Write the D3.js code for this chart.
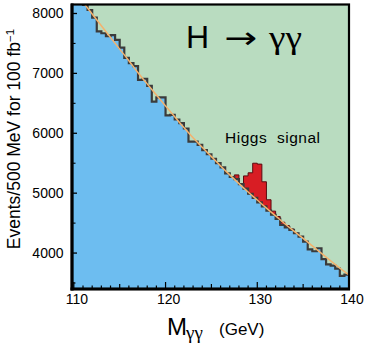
<!DOCTYPE html>
<html><head><meta charset="utf-8">
<script src="https://cdn.jsdelivr.net/npm/d3@7"></script>
<style>body{margin:0;background:#fff} svg{display:block}</style>
</head><body>
<svg id="c" width="384" height="347"></svg>
<script>
// ---- data ----
const binLow = d3.range(110, 140, 0.5);   // 500 MeV bins, lower edges (GeV)
const binWidth = 0.5;
const background = [
  8340, 8250, 8142, 8058, 7930, 7700, 7670, 7620, 7640, 7560,
  7430, 7260, 7170, 7120, 6890, 6910, 6790, 6530, 6600, 6600,
  6300, 6306, 6230, 6170, 6080, 5860, 5860, 5805, 5720, 5650,
  5575, 5500, 5430, 5330, 5270, 5235, 5150, 5075, 4990, 4920,
  4845, 4780, 4710, 4640, 4570, 4470, 4430, 4387, 4331, 4275,
  4191, 4060, 4030, 4080, 3900, 3810, 3790, 3740, 3620, 3640
];
const signal = [
  0, 0, 0, 0, 0, 0, 0, 0, 0, 0,
  0, 0, 0, 0, 0, 0, 0, 0, 0, 0,
  0, 0, 0, 0, 0, 0, 0, 0, 0, 0,
  0, 0, 0, 0, 0, 70, 0, 213, 350, 580,
  640, 410, 180, 60, 40, 45, 30, 15, 0, 0,
  0, 0, 0, 0, 0, 0, 0, 0, 0, 0
];
const fitMass  = [110,111,112,113,114,115,116,117,118,119,120,121,122,123,124,125,126,127,128,129,130,131,132,133,134,135,136,137,138,139,140];
const fitValue = [8390,8190,7992,7796,7600,7405,7212,7010,6825,6640,6457,6276,6095,5925,5765,5610,5455,5305,5160,5020,4885,4750,4620,4490,4365,4245,4120,3995,3870,3750,3635];
const xMajor = [110,120,130,140];
const xMinor = d3.range(110, 141, 1);
const yMajor = [4000,5000,6000,7000,8000];
const yMinor = [3500,4500,5500,6500,7500];

// ---- layout ----
const P = {l:72, r:349, t:4.5, b:289};
const x = d3.scaleLinear().domain([109.8,140]).range([P.l, P.r]);
const y = d3.scaleLinear().domain([3400,8150]).range([P.b, P.t]);
const svg = d3.select('#c');

svg.append('defs').append('clipPath').attr('id','clip')
  .append('rect').attr('x',P.l).attr('y',P.t).attr('width',P.r-P.l).attr('height',P.b-P.t);
const g = svg.append('g').attr('clip-path','url(#clip)');

g.append('rect').attr('x',P.l).attr('y',P.t).attr('width',P.r-P.l).attr('height',P.b-P.t)
  .attr('fill','#b9dcc0');

// step points
const bgPts = [];
binLow.forEach((lo,i)=>{ bgPts.push([lo, background[i]]); bgPts.push([lo+binWidth, background[i]]); });
const area = d3.area().x(d=>x(d[0])).y0(y(3400)).y1(d=>y(d[1]));
g.append('path').attr('d', area([[109.8, background[0]], ...bgPts])).attr('fill','#6dbdf0');

// signal stacked on background
const sigPts = [];
binLow.forEach((lo,i)=>{ if (i>=34 && i<=48){ sigPts.push([lo, background[i], background[i]+signal[i]]); sigPts.push([lo+binWidth, background[i], background[i]+signal[i]]); }});
g.append('path').attr('d', d3.area().x(d=>x(d[0])).y0(d=>y(d[1])).y1(d=>y(d[2]))(sigPts))
  .attr('fill','#d81d24').attr('stroke','#5a0c10').attr('stroke-width',1).attr('stroke-linejoin','miter');

// background step outline
g.append('path').attr('d', d3.line().x(d=>x(d[0])).y(d=>y(d[1]))(bgPts))
  .attr('fill','none').attr('stroke','#3b3b3b').attr('stroke-width',2.2).attr('stroke-linejoin','miter');

// fit line
g.append('path').attr('d', d3.line().curve(d3.curveMonotoneX).x((d,i)=>x(fitMass[i])).y(d=>y(d))(fitValue))
  .attr('fill','none').attr('stroke','#f3b26e').attr('stroke-width',1.5);

// ---- axes ----
const ax = svg.append('g');
yMajor.forEach(v=>ax.append('line').attr('x1',P.l).attr('x2',P.l+5).attr('y1',y(v)).attr('y2',y(v)).attr('stroke','#000').attr('stroke-width',1.3));
yMinor.forEach(v=>ax.append('line').attr('x1',P.l).attr('x2',P.l+3.5).attr('y1',y(v)).attr('y2',y(v)).attr('stroke','#000').attr('stroke-width',1.1));
xMinor.forEach(v=>{
  const len = (v%10===0)?7:(v%5===0?5:3.5);
  ax.append('line').attr('x1',x(v)).attr('x2',x(v)).attr('y1',P.b).attr('y2',P.b-len).attr('stroke','#000').attr('stroke-width',1.2);
});
ax.append('rect').attr('x',P.l).attr('y',P.t).attr('width',P.r-P.l).attr('height',P.b-P.t)
  .attr('fill','none').attr('stroke','#000').attr('stroke-width',2.2);
ax.append('line').attr('x1',P.l).attr('x2',P.l).attr('y1',P.t-1).attr('y2',P.b+1.5).attr('stroke','#000').attr('stroke-width',3.2);
ax.append('line').attr('x1',P.l-1.5).attr('x2',P.r+1).attr('y1',P.b).attr('y2',P.b).attr('stroke','#000').attr('stroke-width',3.2);

const font = 'Liberation Sans, Arial, Helvetica, sans-serif';
yMajor.forEach(v=>ax.append('text').attr('x',P.l-8.5).attr('y',y(v)+5).attr('text-anchor','end')
  .attr('font-family',font).attr('font-size',14).text(v));
xMajor.forEach(v=>ax.append('text').attr('x',x(v)+3).attr('y',303.5).attr('text-anchor','middle')
  .attr('font-family',font).attr('font-size',14).text(v));

// y title
const yt = svg.append('text').attr('transform','translate(20,139) rotate(-90)').attr('text-anchor','middle')
  .attr('font-family',font).attr('font-size',17.5);
yt.append('tspan').text('Events/500 MeV for 100 fb');
yt.append('tspan').attr('dy',-6.5).attr('font-size',11.5).text('\u22121');

// x title
svg.append('text').attr('x',167).attr('y',335).attr('font-family',font).attr('font-size',24).text('M');
svg.append('text').attr('x',186).attr('y',339).attr('font-family','Liberation Serif, serif').attr('font-size',19).text('\u03b3\u03b3');
svg.append('text').attr('x',219).attr('y',335).attr('font-family',font).attr('font-size',17).text('(GeV)');

// title
svg.append('text').attr('x',186).attr('y',48.3).attr('font-family',font).attr('font-size',32).text('H');
svg.append('text').attr('x',224).attr('y',48.3).attr('font-family','DejaVu Sans, sans-serif').attr('font-size',30)
  .attr('textLength',33).attr('lengthAdjust','spacingAndGlyphs').text('\u2192');
svg.append('text').attr('x',269).attr('y',48.3).attr('font-family','Liberation Serif, serif').attr('font-size',32)
  .attr('textLength',33).attr('lengthAdjust','spacingAndGlyphs').text('\u03b3\u03b3');

svg.append('text').attr('x',225).attr('y',142.5).attr('font-family',font).attr('font-size',15.5)
  .attr('textLength',95).attr('lengthAdjust','spacing').attr('xml:space','preserve').style('white-space','pre').text('Higgs  signal');
</script>
</body></html>
